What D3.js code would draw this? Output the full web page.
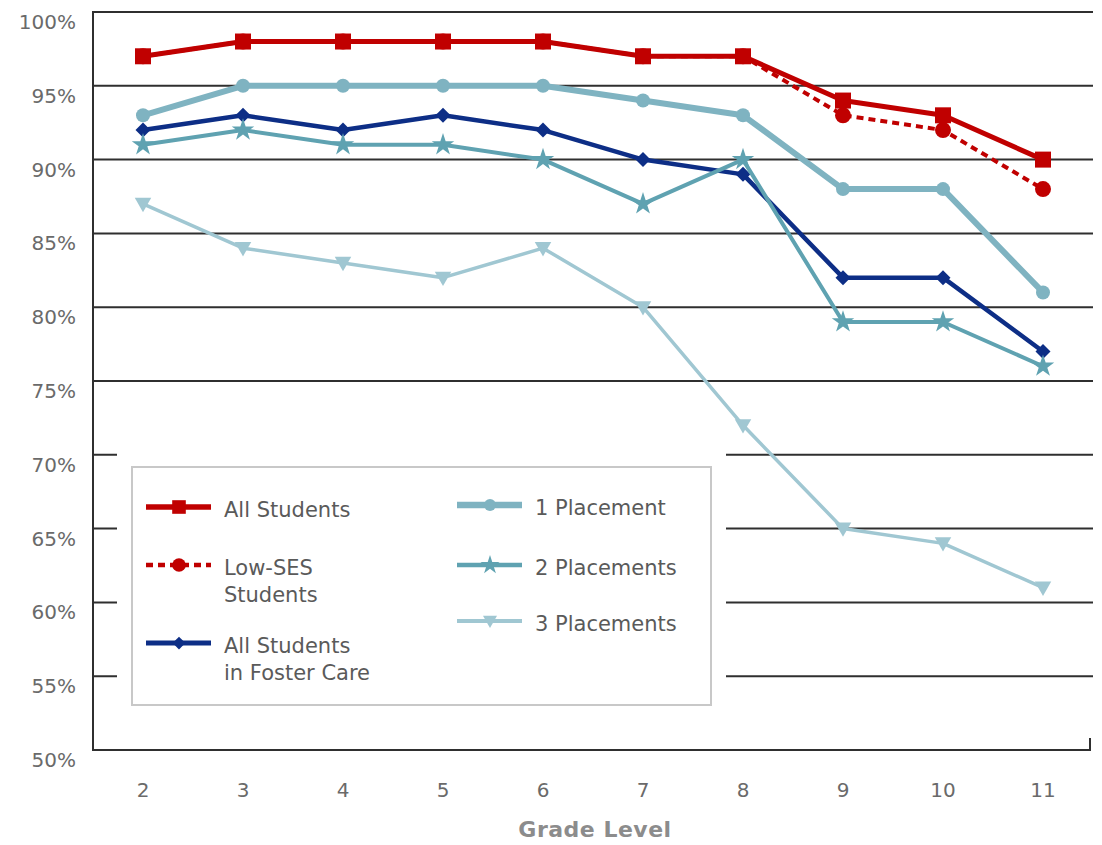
<!DOCTYPE html>
<html>
<head>
<meta charset="utf-8">
<script src="https://cdn.jsdelivr.net/npm/d3@7"></script>
<style>
  html, body { margin: 0; padding: 0; background: #fff; }
  svg { display: block; }
  text { font-family: "DejaVu Sans", "Noto Sans", sans-serif; }
</style>
</head>
<body>
<svg id="chart" width="1102" height="845"></svg>
<script>
// Grade levels on the x axis
const grades = ["2", "3", "4", "5", "6", "7", "8", "9", "10", "11"];
// Y axis ticks (percent)
const yTicks = [50, 55, 60, 65, 70, 75, 80, 85, 90, 95, 100];

// Series values (percent) by grade
const allStudents     = [97, 98, 98, 98, 98, 97, 97, 94, 93, 90];
const lowSES          = [97, 98, 98, 98, 98, 97, 97, 93, 92, 88];
const fosterCare      = [92, 93, 92, 93, 92, 90, 89, 82, 82, 77];
const onePlacement    = [93, 95, 95, 95, 95, 94, 93, 88, 88, 81];
const twoPlacements   = [91, 92, 91, 91, 90, 87, 90, 79, 79, 76];
const threePlacements = [87, 84, 83, 82, 84, 80, 72, 65, 64, 61];

const svg = d3.select("#chart");
const plotLeft = 93, plotRight = 1093, plotTop = 12, plotBottom = 750;

const x = d3.scalePoint().domain(grades).range([plotLeft, plotRight]).padding(0.5);
const y = d3.scaleLinear().domain([50, 100]).range([plotBottom, plotTop]);

const red = "#c00000", navy = "#0d2e86";
const teal1 = "#7fb3c1", teal2 = "#5fa2b1", teal3 = "#a0c7d2";

const series = [
  { name: "3 Placements", values: threePlacements, color: teal3, width: 3.5, dash: null, symbol: "triDown", size: 11 },
  { name: "All Students in Foster Care", values: fosterCare, color: navy, width: 4.5, dash: null, symbol: "diamond", size: 7.5 },
  { name: "2 Placements", values: twoPlacements, color: teal2, width: 4, dash: null, symbol: "star", size: 7 },
  { name: "1 Placement", values: onePlacement, color: teal1, width: 6, dash: null, symbol: "circle", size: 7 },
  { name: "Low-SES Students", values: lowSES, color: red, width: 4, dash: "7,5", symbol: "circle", size: 8 },
  { name: "All Students", values: allStudents, color: red, width: 5, dash: null, symbol: "square", size: 8 }
];

// Horizontal gridlines
const grid = svg.append("g");
grid.selectAll("line").data(yTicks.filter(t => t > 50)).join("line")
  .attr("x1", plotLeft).attr("x2", plotRight)
  .attr("y1", d => y(d)).attr("y2", d => y(d))
  .attr("stroke", "#2f2f2f").attr("stroke-width", 2);

// Axes frame: left axis, bottom axis, right end tick
svg.append("line").attr("x1", plotLeft).attr("x2", plotLeft).attr("y1", plotTop - 1).attr("y2", plotBottom + 1)
  .attr("stroke", "#2f2f2f").attr("stroke-width", 2);
svg.append("line").attr("x1", plotLeft).attr("x2", plotRight - 3).attr("y1", plotBottom).attr("y2", plotBottom)
  .attr("stroke", "#2f2f2f").attr("stroke-width", 2);
svg.append("line").attr("x1", plotRight - 3).attr("x2", plotRight - 3).attr("y1", plotBottom - 12).attr("y2", plotBottom + 1)
  .attr("stroke", "#2f2f2f").attr("stroke-width", 2);

// Y tick labels
svg.append("g").selectAll("text").data(yTicks).join("text")
  .attr("x", 76).attr("y", d => y(d) + 17)
  .attr("text-anchor", "end")
  .attr("font-size", 20).attr("fill", "#6a6a6a")
  .text(d => d + "%");

// X tick labels
svg.append("g").selectAll("text").data(grades).join("text")
  .attr("x", d => x(d)).attr("y", 797)
  .attr("text-anchor", "middle")
  .attr("font-size", 20).attr("fill", "#6a6a6a")
  .text(d => d);

svg.append("text").attr("x", 595).attr("y", 837)
  .attr("text-anchor", "middle").attr("font-size", 22).attr("font-weight", 700)
  .attr("letter-spacing", 0.5).attr("fill", "#8c8c8c").text("Grade Level");

// Legend background (covers gridlines)
const lg = { x: 132, y: 467, w: 579, h: 238 };
svg.append("rect").attr("x", lg.x - 15).attr("y", lg.y - 15)
  .attr("width", lg.w + 30).attr("height", lg.h + 30).attr("fill", "#fff");
svg.append("rect").attr("x", lg.x).attr("y", lg.y)
  .attr("width", lg.w).attr("height", lg.h)
  .attr("fill", "#fff").attr("stroke", "#c8c8c8").attr("stroke-width", 2);

function drawMarker(g, s, cx, cy, scale) {
  const k = scale || 1;
  const r = s.size * k;
  if (s.symbol === "square") {
    g.append("rect").attr("x", cx - r).attr("y", cy - r).attr("width", 2 * r).attr("height", 2 * r).attr("fill", s.color);
  } else if (s.symbol === "circle") {
    g.append("circle").attr("cx", cx).attr("cy", cy).attr("r", r).attr("fill", s.color);
  } else if (s.symbol === "diamond") {
    g.append("path").attr("d", `M${cx},${cy - r}L${cx + r},${cy}L${cx},${cy + r}L${cx - r},${cy}Z`).attr("fill", s.color);
  } else if (s.symbol === "triDown") {
    g.append("path").attr("d", `M${cx - r * 0.75},${cy - r * 0.55}L${cx + r * 0.75},${cy - r * 0.55}L${cx},${cy + r * 0.75}Z`).attr("fill", s.color);
  } else if (s.symbol === "star") {
    g.append("path").attr("d", d3.symbol().type(d3.symbolStar).size(r * r * 3.2)())
      .attr("transform", `translate(${cx},${cy})`).attr("fill", s.color);
  }
}

// Lines and markers
const line = d3.line().x((d, i) => x(grades[i])).y(d => y(d));
series.forEach(s => {
  const g = svg.append("g");
  g.append("path").datum(s.values).attr("d", line)
    .attr("fill", "none").attr("stroke", s.color).attr("stroke-width", s.width)
    .attr("stroke-dasharray", s.dash).attr("stroke-linejoin", "round");
  s.values.forEach((v, i) => drawMarker(g, s, x(grades[i]), y(v)));
});

// Legend entries
const legendItems = [
  { s: series[5], x: 146, y: 507, lines: ["All Students"] },
  { s: series[4], x: 146, y: 565, lines: ["Low-SES", "Students"] },
  { s: series[1], x: 146, y: 643, lines: ["All Students", "in Foster Care"] },
  { s: series[3], x: 457, y: 505, lines: ["1 Placement"] },
  { s: series[2], x: 457, y: 565, lines: ["2 Placements"] },
  { s: series[0], x: 457, y: 621, lines: ["3 Placements"] }
];
legendItems.forEach(it => {
  const g = svg.append("g");
  const s = it.s;
  g.append("line").attr("x1", it.x).attr("x2", it.x + 65).attr("y1", it.y).attr("y2", it.y)
    .attr("stroke", s.color).attr("stroke-width", s.width + 0.5).attr("stroke-dasharray", s.dash);
  drawMarker(g, s, it.x + 33, it.y, 0.85);
  const t = g.append("text").attr("x", it.x + 78).attr("y", it.y + 10)
    .attr("font-size", 21).attr("fill", "#5a5a5a");
  it.lines.forEach((ln, i) => t.append("tspan").attr("x", it.x + 78).attr("dy", i === 0 ? 0 : 27).text(ln));
});
</script>
</body>
</html>
